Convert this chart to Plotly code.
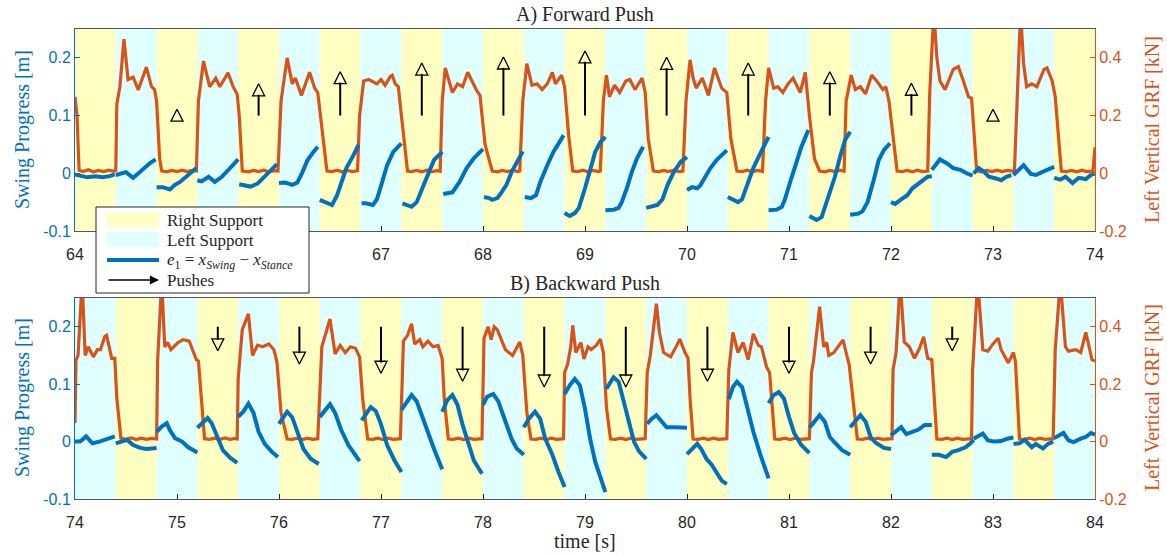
import plotly.graph_objects as go

# ---------------- data ----------------
# support phase boundaries [s] and which foot supports in each phase
phase_edges_A = [64.0, 64.4, 64.8, 65.2, 65.6, 66.0, 66.4, 66.8, 67.2, 67.6, 68.0, 68.4, 68.8,
                 69.2, 69.6, 70.0, 70.4, 70.8, 71.2, 71.6, 72.0, 72.4, 72.8, 73.2, 73.6, 74.0]
phase_support_A = ["R", "L", "R", "L", "R", "L", "R", "L", "R", "L", "R", "L", "R",
                   "L", "R", "L", "R", "L", "R", "L", "R", "L", "R", "L", "R"]
phase_edges_B = [74.0, 74.4, 74.8, 75.2, 75.6, 76.0, 76.4, 76.8, 77.2, 77.6, 78.0, 78.4, 78.8,
                 79.2, 79.6, 80.0, 80.4, 80.8, 81.2, 81.6, 82.0, 82.4, 82.8, 83.2, 83.6, 84.0]
phase_support_B = ["L", "R", "L", "R", "L", "R", "L", "R", "L", "R", "L", "R", "L",
                   "R", "L", "R", "L", "R", "L", "R", "L", "R", "L", "R", "L"]

# left vertical ground reaction force [kN]
grf_A_t = [64.00, 64.02, 64.04, 64.08, 64.13, 64.18, 64.23, 64.28, 64.33, 64.38,
           64.40, 64.41, 64.44, 64.48, 64.52, 64.57, 64.62, 64.70, 64.75, 64.78, 64.80, 64.83, 64.85,
           64.90, 64.95, 65.00, 65.05, 65.10, 65.15, 65.19,
           65.21, 65.26, 65.32, 65.38, 65.42, 65.50, 65.55, 65.59, 65.61, 65.64,
           65.70, 65.75, 65.80, 65.85, 65.90, 65.95, 65.99,
           66.02, 66.08, 66.13, 66.16, 66.22, 66.30, 66.35, 66.38, 66.42, 66.47,
           66.52, 66.57, 66.62, 66.67, 66.72, 66.77,
           66.79, 66.83, 66.88, 66.96, 67.00, 67.04, 67.09, 67.11, 67.14, 67.17, 67.20, 67.26,
           67.30, 67.35, 67.40, 67.45, 67.50, 67.55, 67.58,
           67.60, 67.63, 67.66, 67.70, 67.75, 67.80, 67.85, 67.94, 67.97, 68.02, 68.09,
           68.14, 68.19, 68.24, 68.29, 68.34, 68.36,
           68.39, 68.43, 68.48, 68.53, 68.58, 68.63, 68.68, 68.71, 68.77, 68.80, 68.84, 68.88,
           68.93, 68.98, 69.03, 69.08, 69.13, 69.15,
           69.18, 69.21, 69.24, 69.29, 69.34, 69.40, 69.44, 69.49, 69.56, 69.59, 69.62, 69.67,
           69.72, 69.77, 69.82, 69.87, 69.92, 69.96,
           69.99, 70.03, 70.06, 70.09, 70.15, 70.21, 70.25, 70.27, 70.34, 70.39, 70.43, 70.49,
           70.54, 70.59, 70.64, 70.69, 70.74,
           70.77, 70.80, 70.85, 70.89, 70.94, 70.99, 71.04, 71.11, 71.16, 71.20, 71.25, 71.30,
           71.35, 71.40, 71.45, 71.50, 71.54,
           71.56, 71.61, 71.65, 71.70, 71.75, 71.81, 71.86, 71.92, 71.95, 71.98, 72.06,
           72.11, 72.16, 72.21, 72.26, 72.31, 72.36,
           72.38, 72.42, 72.45, 72.48, 72.53, 72.61, 72.66, 72.71, 72.76, 72.79, 72.84,
           72.89, 72.94, 72.99, 73.04, 73.09, 73.14, 73.21,
           73.24, 73.27, 73.30, 73.33, 73.38, 73.43, 73.50, 73.53, 73.58, 73.61, 73.67,
           73.72, 73.77, 73.82, 73.87, 73.92, 73.98, 74.00]
grf_A_v = [0.265, 0.20, 0.010, 0.006, 0.012, 0.005, 0.010, 0.006, 0.011, 0.007,
           0.010, 0.240, 0.300, 0.465, 0.325, 0.333, 0.289, 0.368, 0.300, 0.290, 0.250, 0.050, 0.008,
           0.005, 0.010, 0.006, 0.011, 0.006, 0.010, 0.008,
           0.250, 0.389, 0.300, 0.330, 0.300, 0.348, 0.300, 0.274, 0.200, 0.008,
           0.005, 0.010, 0.006, 0.011, 0.005, 0.009, 0.008,
           0.250, 0.400, 0.310, 0.330, 0.270, 0.350, 0.295, 0.280, 0.150, 0.008,
           0.006, 0.011, 0.005, 0.010, 0.006, 0.009,
           0.200, 0.320, 0.325, 0.310, 0.325, 0.305, 0.335, 0.340, 0.310, 0.300, 0.200, 0.008,
           0.006, 0.010, 0.005, 0.011, 0.006, 0.009, 0.007,
           0.250, 0.365, 0.330, 0.280, 0.310, 0.300, 0.350, 0.285, 0.270, 0.100, 0.008,
           0.005, 0.010, 0.006, 0.011, 0.006, 0.008,
           0.250, 0.380, 0.305, 0.310, 0.290, 0.310, 0.350, 0.310, 0.340, 0.300, 0.130, 0.008,
           0.006, 0.011, 0.005, 0.010, 0.006, 0.008,
           0.250, 0.340, 0.265, 0.305, 0.280, 0.320, 0.325, 0.290, 0.330, 0.280, 0.120, 0.008,
           0.005, 0.010, 0.006, 0.011, 0.006, 0.008,
           0.250, 0.393, 0.330, 0.295, 0.330, 0.270, 0.340, 0.365, 0.295, 0.280, 0.120, 0.008,
           0.006, 0.011, 0.005, 0.010, 0.007,
           0.250, 0.365, 0.295, 0.300, 0.280, 0.310, 0.330, 0.280, 0.350, 0.200, 0.050, 0.008,
           0.005, 0.010, 0.006, 0.011, 0.007,
           0.250, 0.340, 0.290, 0.300, 0.275, 0.340, 0.320, 0.290, 0.300, 0.250, 0.008,
           0.006, 0.010, 0.005, 0.011, 0.006, 0.008,
           0.280, 0.560, 0.400, 0.320, 0.290, 0.360, 0.370, 0.320, 0.265, 0.260, 0.008,
           0.005, 0.010, 0.006, 0.011, 0.006, 0.010, 0.007,
           0.300, 0.560, 0.380, 0.300, 0.310, 0.300, 0.360, 0.365, 0.320, 0.265, 0.008,
           0.006, 0.010, 0.005, 0.011, 0.006, 0.008, 0.090]

grf_B_t = [74.00, 74.01, 74.03, 74.07, 74.10, 74.13, 74.18, 74.22, 74.25, 74.29, 74.31, 74.36, 74.39, 74.41, 74.45,
           74.50, 74.55, 74.60, 74.65, 74.70, 74.75, 74.80,
           74.81, 74.85, 74.88, 74.91, 74.94, 75.01, 75.06, 75.12, 75.19, 75.21, 75.27,
           75.32, 75.37, 75.42, 75.47, 75.52, 75.57, 75.59,
           75.60, 75.64, 75.70, 75.74, 75.79, 75.84, 75.90, 75.95, 75.98, 76.02, 76.08,
           76.13, 76.18, 76.23, 76.28, 76.33, 76.38,
           76.42, 76.50, 76.55, 76.60, 76.65, 76.70, 76.75, 76.79, 76.82, 76.87,
           76.92, 76.97, 77.02, 77.07, 77.12, 77.19,
           77.22, 77.26, 77.30, 77.33, 77.38, 77.41, 77.46, 77.51, 77.56, 77.60, 77.62, 77.66,
           77.71, 77.76, 77.81, 77.86, 77.91, 77.99,
           78.01, 78.05, 78.08, 78.11, 78.14, 78.22, 78.29, 78.36, 78.39, 78.43, 78.47,
           78.52, 78.57, 78.62, 78.67, 78.72, 78.79,
           78.80, 78.83, 78.86, 78.88, 78.91, 78.96, 78.99, 79.03, 79.06, 79.11, 79.15, 79.18, 79.21, 79.25,
           79.30, 79.35, 79.40, 79.45, 79.50, 79.59,
           79.61, 79.64, 79.70, 79.73, 79.77, 79.84, 79.90, 79.93, 79.98, 80.01, 80.03, 80.06,
           80.11, 80.16, 80.21, 80.26, 80.31, 80.39,
           80.41, 80.45, 80.50, 80.55, 80.60, 80.65, 80.70, 80.73, 80.78, 80.81, 80.86,
           80.91, 80.96, 81.01, 81.06, 81.11, 81.20,
           81.22, 81.24, 81.30, 81.34, 81.37, 81.39, 81.44, 81.49, 81.53, 81.56, 81.59, 81.67,
           81.72, 81.77, 81.82, 81.87, 81.92, 82.01,
           82.02, 82.05, 82.09, 82.13, 82.18, 82.23, 82.28, 82.32, 82.36, 82.40, 82.45,
           82.50, 82.55, 82.60, 82.65, 82.70, 82.79,
           82.80, 82.82, 82.85, 82.90, 82.95, 83.00, 83.05, 83.08, 83.15, 83.20, 83.22, 83.26,
           83.31, 83.36, 83.41, 83.46, 83.51, 83.59,
           83.61, 83.66, 83.71, 83.74, 83.81, 83.86, 83.89, 83.91, 83.93, 83.97, 84.00]
grf_B_v = [0.065, 0.284, 0.300, 0.560, 0.300, 0.330, 0.295, 0.320, 0.320, 0.365, 0.370, 0.290, 0.290, 0.150, 0.012,
           0.008, 0.013, 0.007, 0.012, 0.008, 0.011, 0.009,
           0.280, 0.560, 0.330, 0.345, 0.320, 0.345, 0.355, 0.350, 0.285, 0.280, 0.010,
           0.008, 0.012, 0.007, 0.013, 0.008, 0.011, 0.009,
           0.220, 0.390, 0.445, 0.300, 0.336, 0.330, 0.340, 0.320, 0.277, 0.100, 0.009,
           0.008, 0.012, 0.007, 0.012, 0.008, 0.010,
           0.330, 0.427, 0.305, 0.335, 0.310, 0.330, 0.325, 0.295, 0.150, 0.009,
           0.008, 0.012, 0.007, 0.012, 0.008, 0.010,
           0.350, 0.370, 0.410, 0.340, 0.355, 0.330, 0.350, 0.330, 0.335, 0.288, 0.150, 0.009,
           0.008, 0.012, 0.007, 0.012, 0.008, 0.010,
           0.360, 0.400, 0.355, 0.400, 0.390, 0.320, 0.300, 0.347, 0.300, 0.100, 0.009,
           0.008, 0.012, 0.007, 0.012, 0.008, 0.010,
           0.240, 0.270, 0.330, 0.405, 0.310, 0.345, 0.288, 0.330, 0.320, 0.335, 0.357, 0.310, 0.120, 0.009,
           0.008, 0.012, 0.007, 0.012, 0.008, 0.010,
           0.240, 0.300, 0.480, 0.380, 0.310, 0.295, 0.335, 0.357, 0.310, 0.290, 0.150, 0.009,
           0.008, 0.012, 0.007, 0.012, 0.008, 0.010,
           0.250, 0.380, 0.310, 0.345, 0.285, 0.375, 0.335, 0.330, 0.260, 0.240, 0.009,
           0.008, 0.012, 0.007, 0.012, 0.008, 0.010,
           0.240, 0.280, 0.470, 0.330, 0.345, 0.300, 0.310, 0.335, 0.354, 0.310, 0.267, 0.009,
           0.008, 0.012, 0.007, 0.012, 0.008, 0.010,
           0.250, 0.310, 0.560, 0.347, 0.330, 0.290, 0.325, 0.365, 0.290, 0.285, 0.009,
           0.008, 0.012, 0.007, 0.012, 0.008, 0.010,
           0.250, 0.360, 0.560, 0.320, 0.315, 0.340, 0.360, 0.320, 0.274, 0.310, 0.280, 0.009,
           0.008, 0.012, 0.007, 0.012, 0.008, 0.010,
           0.320, 0.560, 0.330, 0.315, 0.320, 0.310, 0.347, 0.380, 0.350, 0.285, 0.280]

# swing progress e1 [m], one segment per support phase
swing_A_t = [
    [64.00, 64.05, 64.12, 64.20, 64.27, 64.34, 64.39],
    [64.40, 64.45, 64.50, 64.57, 64.63, 64.68, 64.73, 64.79],
    [64.80, 64.86, 64.93, 64.98, 65.03, 65.09, 65.14, 65.19],
    [65.20, 65.24, 65.31, 65.37, 65.44, 65.49, 65.54, 65.60],
    [65.61, 65.68, 65.72, 65.79, 65.85, 65.91, 65.98],
    [66.00, 66.06, 66.13, 66.18, 66.23, 66.28, 66.33, 66.38],
    [66.40, 66.46, 66.52, 66.57, 66.61, 66.66, 66.72, 66.78],
    [66.81, 66.85, 66.92, 66.96, 67.01, 67.06, 67.12, 67.20],
    [67.21, 67.26, 67.30, 67.35, 67.41, 67.47, 67.52, 67.60],
    [67.61, 67.66, 67.70, 67.77, 67.84, 67.91, 67.96, 68.00],
    [68.01, 68.06, 68.09, 68.14, 68.17, 68.23, 68.28, 68.33, 68.39],
    [68.41, 68.47, 68.52, 68.56, 68.63, 68.69, 68.75, 68.79],
    [68.80, 68.85, 68.90, 68.94, 69.00, 69.05, 69.10, 69.15, 69.20],
    [69.20, 69.28, 69.33, 69.36, 69.41, 69.46, 69.51, 69.57],
    [69.60, 69.66, 69.71, 69.76, 69.81, 69.87, 69.94, 70.00],
    [70.00, 70.05, 70.10, 70.13, 70.18, 70.23, 70.29, 70.34, 70.39],
    [70.40, 70.46, 70.50, 70.54, 70.59, 70.65, 70.72, 70.80],
    [70.80, 70.88, 70.93, 70.96, 71.01, 71.06, 71.12, 71.19],
    [71.20, 71.27, 71.32, 71.38, 71.45, 71.50, 71.55, 71.60],
    [71.60, 71.68, 71.72, 71.77, 71.83, 71.88, 71.93, 71.99],
    [72.00, 72.04, 72.11, 72.16, 72.21, 72.26, 72.31, 72.36, 72.40],
    [72.40, 72.44, 72.48, 72.55, 72.61, 72.68, 72.74, 72.80],
    [72.81, 72.86, 72.91, 72.96, 73.03, 73.08, 73.13, 73.18],
    [73.20, 73.25, 73.30, 73.37, 73.42, 73.48, 73.55, 73.60],
    [73.60, 73.66, 73.71, 73.78, 73.84, 73.91, 73.96, 74.00],
]
swing_A_v = [
    [-0.002, -0.004, -0.007, -0.005, -0.007, -0.005, -0.002],
    [-0.003, 0.000, 0.002, -0.008, 0.002, 0.011, 0.017, 0.024],
    [-0.024, -0.024, -0.028, -0.020, -0.015, -0.006, 0.002, 0.009],
    [-0.012, -0.014, -0.006, -0.015, -0.006, 0.004, 0.013, 0.024],
    [-0.019, -0.021, -0.023, -0.018, -0.008, 0.002, 0.016],
    [-0.017, -0.016, -0.020, -0.016, 0.002, 0.023, 0.035, 0.046],
    [-0.046, -0.050, -0.055, -0.038, -0.016, 0.009, 0.028, 0.049],
    [-0.052, -0.052, -0.055, -0.045, -0.016, 0.014, 0.037, 0.052],
    [-0.052, -0.055, -0.058, -0.050, -0.026, 0.002, 0.023, 0.037],
    [-0.036, -0.034, -0.033, -0.015, 0.009, 0.026, 0.036, 0.042],
    [-0.041, -0.043, -0.046, -0.043, -0.036, -0.020, 0.002, 0.020, 0.038],
    [-0.041, -0.043, -0.038, -0.016, 0.014, 0.037, 0.054, 0.066],
    [-0.069, -0.074, -0.069, -0.060, -0.026, 0.009, 0.037, 0.054, 0.063],
    [-0.064, -0.063, -0.060, -0.050, -0.026, 0.003, 0.026, 0.046],
    [-0.060, -0.058, -0.055, -0.045, -0.020, 0.002, 0.020, 0.028],
    [-0.029, -0.024, -0.026, -0.021, -0.006, 0.009, 0.023, 0.031, 0.040],
    [-0.041, -0.047, -0.050, -0.045, -0.020, 0.009, 0.035, 0.063],
    [-0.064, -0.063, -0.058, -0.045, -0.016, 0.014, 0.045, 0.075],
    [-0.074, -0.081, -0.076, -0.046, -0.006, 0.028, 0.058, 0.072],
    [-0.072, -0.070, -0.066, -0.050, -0.012, 0.023, 0.040, 0.052],
    [-0.050, -0.053, -0.044, -0.038, -0.026, -0.020, -0.014, -0.006, -0.005],
    [0.006, 0.015, 0.024, 0.017, 0.009, 0.006, 0.000, -0.004],
    [0.000, 0.009, 0.003, -0.006, -0.009, -0.012, -0.006, -0.003],
    [-0.003, 0.006, 0.014, -0.001, -0.003, 0.002, 0.008, 0.011],
    [-0.008, -0.011, -0.006, -0.017, -0.008, -0.010, -0.003, 0.000],
]
swing_B_t = [
    [74.00, 74.05, 74.11, 74.17, 74.24, 74.29, 74.34, 74.39],
    [74.40, 74.46, 74.51, 74.57, 74.64, 74.70, 74.80],
    [74.80, 74.85, 74.90, 74.93, 74.98, 75.05, 75.11, 75.16, 75.20],
    [75.20, 75.24, 75.30, 75.34, 75.39, 75.45, 75.52, 75.59],
    [75.60, 75.65, 75.70, 75.75, 75.80, 75.86, 75.93, 75.99],
    [76.00, 76.08, 76.13, 76.18, 76.24, 76.31, 76.39],
    [76.40, 76.50, 76.55, 76.61, 76.68, 76.74, 76.79],
    [76.81, 76.90, 76.95, 77.00, 77.06, 77.13, 77.20],
    [77.20, 77.26, 77.30, 77.35, 77.43, 77.52, 77.60],
    [77.60, 77.65, 77.70, 77.75, 77.80, 77.85, 77.91, 77.99],
    [78.00, 78.04, 78.10, 78.15, 78.22, 78.28, 78.33, 78.40],
    [78.40, 78.45, 78.51, 78.56, 78.61, 78.68, 78.74, 78.80],
    [78.80, 78.85, 78.90, 78.95, 79.00, 79.05, 79.10, 79.15, 79.20],
    [79.21, 79.28, 79.33, 79.38, 79.43, 79.48, 79.53, 79.60],
    [79.61, 79.65, 79.70, 79.75, 79.80, 79.87, 79.93, 80.00],
    [80.00, 80.05, 80.10, 80.14, 80.19, 80.24, 80.31, 80.34, 80.39],
    [80.41, 80.45, 80.49, 80.54, 80.59, 80.65, 80.72, 80.80],
    [80.80, 80.85, 80.90, 80.95, 81.00, 81.05, 81.12, 81.20],
    [81.20, 81.25, 81.30, 81.35, 81.40, 81.45, 81.52, 81.60],
    [81.60, 81.65, 81.70, 81.75, 81.80, 81.85, 81.93, 82.00],
    [82.00, 82.05, 82.10, 82.15, 82.20, 82.27, 82.33, 82.40],
    [82.40, 82.47, 82.54, 82.60, 82.66, 82.73, 82.78, 82.81],
    [82.81, 82.86, 82.90, 82.95, 83.01, 83.08, 83.14, 83.20],
    [83.20, 83.26, 83.31, 83.38, 83.42, 83.49, 83.54, 83.59],
    [83.60, 83.69, 83.74, 83.79, 83.86, 83.91, 83.96, 84.00],
]
swing_B_v = [
    [0.000, 0.000, 0.009, -0.003, 0.000, 0.003, 0.007, 0.009],
    [-0.003, 0.000, 0.003, -0.006, -0.011, -0.013, -0.011],
    [0.017, 0.026, 0.032, 0.020, 0.006, 0.000, -0.010, -0.015, -0.019],
    [0.024, 0.030, 0.041, 0.032, 0.012, -0.015, -0.028, -0.037],
    [0.043, 0.052, 0.066, 0.050, 0.017, -0.004, -0.018, -0.027],
    [0.031, 0.052, 0.042, 0.017, -0.013, -0.030, -0.039],
    [0.043, 0.065, 0.050, 0.020, -0.006, -0.023, -0.034],
    [0.037, 0.060, 0.053, 0.030, -0.006, -0.032, -0.053],
    [0.055, 0.070, 0.081, 0.070, 0.029, -0.013, -0.048],
    [0.052, 0.072, 0.081, 0.064, 0.029, 0.000, -0.033, -0.056],
    [0.064, 0.078, 0.083, 0.070, 0.035, 0.005, -0.012, -0.023],
    [0.025, 0.040, 0.052, 0.040, 0.005, -0.023, -0.053, -0.079],
    [0.083, 0.098, 0.109, 0.098, 0.057, 0.005, -0.035, -0.060, -0.088],
    [0.092, 0.112, 0.104, 0.069, 0.029, 0.000, -0.017, -0.030],
    [0.031, 0.039, 0.046, 0.036, 0.025, 0.025, 0.025, 0.024],
    [-0.022, -0.013, -0.004, -0.013, -0.030, -0.040, -0.058, -0.068, -0.074],
    [0.074, 0.095, 0.104, 0.095, 0.060, 0.017, -0.023, -0.064],
    [0.067, 0.081, 0.086, 0.075, 0.043, 0.015, -0.006, -0.020],
    [0.024, 0.036, 0.046, 0.035, 0.008, -0.002, -0.015, -0.023],
    [0.025, 0.036, 0.046, 0.035, 0.008, -0.002, -0.011, -0.013],
    [0.011, 0.017, 0.025, 0.013, 0.016, 0.021, 0.029, 0.029],
    [-0.023, -0.023, -0.027, -0.018, -0.015, -0.010, -0.003, 0.003],
    [0.005, 0.011, 0.014, 0.002, 0.000, 0.001, 0.005, 0.007],
    [-0.004, -0.003, 0.003, -0.010, -0.004, -0.012, -0.004, 0.000],
    [0.006, 0.015, 0.002, -0.001, 0.005, 0.008, 0.015, 0.012],
]

# pushes: time, arrow start level and arrow tip on the swing-progress axis [m]
push_A_t = [65.0, 65.8, 66.6, 67.4, 68.2, 69.0, 69.8, 70.6, 71.4, 72.2, 73.0]
push_A_base = 0.1
push_A_tip = [0.111, 0.155, 0.176, 0.191, 0.2015, 0.212, 0.201, 0.191, 0.176, 0.156, 0.111]
push_B_t = [75.4, 76.2, 77.0, 77.8, 78.6, 79.4, 80.2, 81.0, 81.8, 82.6]
push_B_base = 0.2
push_B_tip = [0.158, 0.135, 0.119, 0.105, 0.095, 0.095, 0.105, 0.119, 0.135, 0.158]

x_ticks_A = [64, 65, 66, 67, 68, 69, 70, 71, 72, 73, 74]
x_ticks_B = [74, 75, 76, 77, 78, 79, 80, 81, 82, 83, 84]
swing_ticks = [-0.1, 0, 0.1, 0.2]
swing_ticktext = ["-0.1", "0", "0.1", "0.2"]
grf_ticks = [-0.2, 0, 0.2, 0.4]
grf_ticktext = ["-0.2", "0", "0.2", "0.4"]

# ---------------- styling / layout ----------------
W, H = 1167, 555
ML, MR, MT, MB = 75, 72, 29, 56
PW, PH = W - ML - MR, H - MT - MB
BLUE = "#0072BD"
ORANGE = "#D95319"
YELLOW = "#FFFFC2"
CYAN = "#E0FFFF"
DARK = "#262626"
SERIF = "Liberation Serif, Times New Roman, serif"
SANS = "Liberation Sans, Arial, Helvetica, sans-serif"
SW_RANGE = [-0.1, 0.25]
GRF_RANGE = [-0.2, 0.5]
HEAD_PX = 12


def pxx(px):
    return (px - ML) / PW


def pyy(py):
    return (H - MB - py) / PH


domA = [pyy(231), 1.0]
domB = [0.0, pyy(298)]

fig = go.Figure()
shapes = []
annotations = []


def add_panel(xname, ygrf, ysw, edges, support, gt, gv, st, sv,
              pt, pbase, ptip, up, dom):
    # support phase stripes
    for i, s in enumerate(support):
        shapes.append(dict(type="rect", xref=xname, yref=ygrf + " domain",
                           x0=edges[i], x1=edges[i + 1], y0=0, y1=1,
                           fillcolor=YELLOW if s == "R" else CYAN,
                           line=dict(width=0), layer="below"))
    # GRF
    fig.add_trace(go.Scatter(x=gt, y=gv, mode="lines", xaxis=xname, yaxis=ygrf,
                             line=dict(color=ORANGE, width=3.2), showlegend=False,
                             hoverinfo="skip"))
    # swing progress segments
    xs, ys = [], []
    for a, b in zip(st, sv):
        xs += a + [None]
        ys += b + [None]
    fig.add_trace(go.Scatter(x=xs, y=ys, mode="lines", xaxis=xname, yaxis=ysw,
                             line=dict(color=BLUE, width=4), showlegend=False,
                             connectgaps=False, hoverinfo="skip"))
    # push arrows
    plot_h = (dom[1] - dom[0]) * PH
    head = HEAD_PX * (SW_RANGE[1] - SW_RANGE[0]) / plot_h
    lx, ly = [], []
    for t, tip in zip(pt, ptip):
        if up:
            end = tip - head + 0.002
            if end > pbase:
                lx += [t, t, None]
                ly += [pbase, end, None]
        else:
            end = tip + head - 0.002
            if end < pbase:
                lx += [t, t, None]
                ly += [pbase, end, None]
    fig.add_trace(go.Scatter(x=lx, y=ly, mode="lines", xaxis=xname, yaxis=ysw,
                             line=dict(color="black", width=2), showlegend=False,
                             hoverinfo="skip"))
    fig.add_trace(go.Scatter(x=pt, y=ptip, mode="markers", xaxis=xname, yaxis=ysw,
                             marker=dict(symbol="arrow-up-open" if up else "arrow-down-open",
                                         size=HEAD_PX, color="black",
                                         line=dict(width=1.3, color="black")),
                             showlegend=False, hoverinfo="skip"))


add_panel("x", "y", "y2", phase_edges_A, phase_support_A, grf_A_t, grf_A_v,
          swing_A_t, swing_A_v, push_A_t, push_A_base, push_A_tip, True, domA)
add_panel("x2", "y3", "y4", phase_edges_B, phase_support_B, grf_B_t, grf_B_v,
          swing_B_t, swing_B_v, push_B_t, push_B_base, push_B_tip, False, domB)

xcommon = dict(showgrid=False, zeroline=False, showline=True, linecolor="#555555",
               linewidth=1, mirror=True, ticks="inside", ticklen=5, tickcolor=DARK,
               ticklabelstandoff=9,
               tickfont=dict(family=SANS, size=16, color=DARK))
grf_common = dict(showgrid=False, zeroline=False, showline=True, linecolor=ORANGE,
                  linewidth=1, ticks="inside", ticklen=5, tickcolor=ORANGE,
                  tickvals=grf_ticks, ticktext=grf_ticktext, range=GRF_RANGE,
                  tickfont=dict(family=SANS, size=16, color=ORANGE), side="right")
sw_common = dict(showgrid=False, zeroline=False, showline=True, linecolor=BLUE,
                 linewidth=1, ticks="inside", ticklen=5, tickcolor=BLUE,
                 tickvals=swing_ticks, ticktext=swing_ticktext, range=SW_RANGE,
                 tickfont=dict(family=SANS, size=16, color=BLUE), side="left")

fig.update_layout(
    width=W, height=H,
    margin=dict(l=ML, r=MR, t=MT, b=MB, autoexpand=False),
    paper_bgcolor="white", plot_bgcolor="white",
    showlegend=False,
    xaxis=dict(xcommon, domain=[0, 1], anchor="y", range=[64, 74], tickvals=x_ticks_A),
    yaxis=dict(grf_common, domain=domA, anchor="x"),
    yaxis2=dict(sw_common, overlaying="y", anchor="x"),
    xaxis2=dict(xcommon, domain=[0, 1], anchor="y3", range=[74, 84], tickvals=x_ticks_B),
    yaxis3=dict(grf_common, domain=domB, anchor="x2"),
    yaxis4=dict(sw_common, overlaying="y3", anchor="x2"),
)

# titles
tfont = dict(family=SERIF, size=20, color=DARK)
annotations.append(dict(text="A) Forward Push", xref="paper", yref="paper",
                        x=0.5, y=pyy(14), xanchor="center", yanchor="middle",
                        showarrow=False, font=tfont))
annotations.append(dict(text="B) Backward Push", xref="paper", yref="paper",
                        x=0.5, y=pyy(283), xanchor="center", yanchor="middle",
                        showarrow=False, font=tfont))
annotations.append(dict(text="time [s]", xref="paper", yref="paper",
                        x=0.5, y=pyy(541), xanchor="center", yanchor="middle",
                        showarrow=False, font=tfont))
for cy in (130, 398):
    annotations.append(dict(text="Swing Progress [m]", xref="paper", yref="paper",
                            x=pxx(22), y=pyy(cy), xanchor="center", yanchor="middle",
                            textangle=-90, showarrow=False,
                            font=dict(family=SERIF, size=20, color=BLUE)))
    annotations.append(dict(text="Left Vertical GRF [kN]", xref="paper", yref="paper",
                            x=pxx(1152), y=pyy(cy), xanchor="center", yanchor="middle",
                            textangle=-90, showarrow=False,
                            font=dict(family=SERIF, size=20, color=ORANGE)))

# custom legend
shapes.append(dict(type="rect", xref="paper", yref="paper",
                   x0=pxx(96), x1=pxx(309), y0=pyy(293), y1=pyy(207),
                   fillcolor="white", line=dict(color=DARK, width=1), layer="above"))
shapes.append(dict(type="rect", xref="paper", yref="paper",
                   x0=pxx(107), x1=pxx(159), y0=pyy(227), y1=pyy(213),
                   fillcolor=YELLOW, line=dict(width=0), layer="above"))
shapes.append(dict(type="rect", xref="paper", yref="paper",
                   x0=pxx(107), x1=pxx(159), y0=pyy(247), y1=pyy(232),
                   fillcolor=CYAN, line=dict(width=0), layer="above"))
shapes.append(dict(type="line", xref="paper", yref="paper",
                   x0=pxx(107), x1=pxx(159), y0=pyy(260), y1=pyy(260),
                   line=dict(color=BLUE, width=4), layer="above"))
annotations.append(dict(text="", xref="paper", yref="paper", x=pxx(159), y=pyy(280),
                        ax=-52, ay=0, showarrow=True, arrowhead=2, arrowsize=1.3,
                        arrowwidth=1.4, arrowcolor="black"))
lfont = dict(family=SERIF, size=17, color=DARK)
for txt, cy in (("Right Support", 220), ("Left Support", 240),
                ("<i>e</i><sub>1</sub> = <i>x</i><sub><i>Swing</i></sub> − <i>x</i><sub><i>Stance</i></sub>", 261),
                ("Pushes", 280)):
    annotations.append(dict(text=txt, xref="paper", yref="paper", x=pxx(165), y=pyy(cy),
                            xanchor="left", yanchor="middle", showarrow=False, font=lfont))

fig.update_layout(shapes=shapes, annotations=annotations)
fig.write_html("out.html", config={"displayModeBar": False},
               post_script="document.body.style.margin='0px';document.body.style.overflow='hidden';")
